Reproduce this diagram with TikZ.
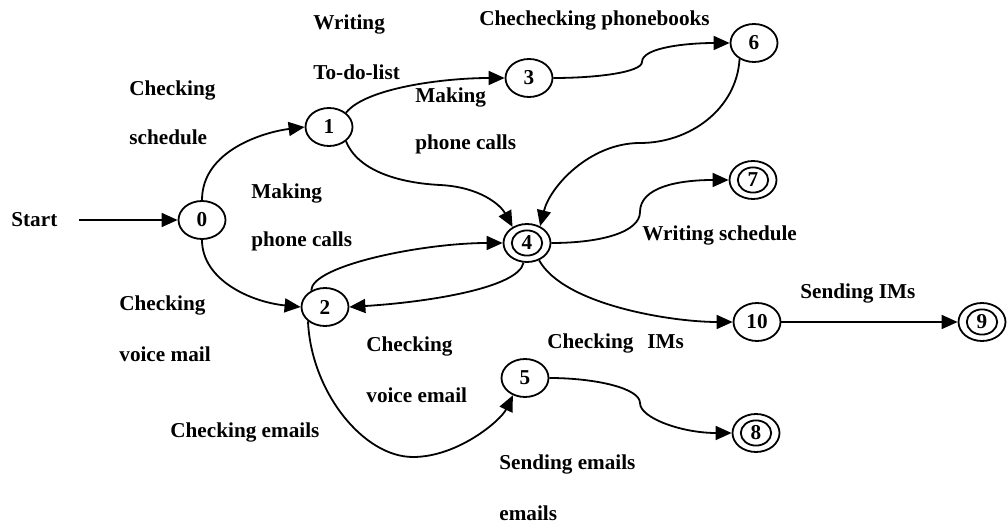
\documentclass[tikz,border=0pt]{standalone}
\usepackage{fontspec}
\setmainfont{Liberation Serif}
\usetikzlibrary{shapes.geometric,arrows.meta}
\begin{document}
\begin{tikzpicture}[x=0.5pt,y=-0.5pt,
  lbl/.style={anchor=west,inner sep=0pt,font=\fontsize{10.6}{12}\selectfont\bfseries},
  st/.style={draw,ellipse,line width=0.9pt,minimum width=23.5pt,minimum height=19pt,inner sep=0pt,font=\fontsize{10.6}{12}\selectfont\bfseries},
  fin/.style={st,append after command={\pgfextra{\draw[line width=0.9pt] (\tikzlastnode.center) ellipse (7.6pt and 6.3pt);}}},
  arr/.style={line width=0.9pt,-{Triangle[length=8pt,width=7pt]}}]
\useasboundingbox (0,0) rectangle (1008,523);
% states
\node[st]  (n0)  at (202,220) {0};
\node[st]  (n1)  at (329,127) {1};
\node[st]  (n2)  at (325,307) {2};
\node[st]  (n3)  at (529,78)  {3};
\node[fin] (n4)  at (527,243) {4};
\node[st]  (n5)  at (525,378) {5};
\node[st]  (n6)  at (754,43)  {6};
\node[fin] (n7)  at (753,180) {7};
\node[fin] (n8)  at (756,433) {8};
\node[fin] (n9)  at (982,322) {9};
\node[st]  (n10) at (757,322) {10};
% labels
\node[lbl] (lstart) at (11,220) {Start};
\node[lbl] (la1) at (313,24) {Writing};
\node[lbl] (la2) at (313,72) {To-do-list};
\node[lbl] (lb1) at (129,90) {Checking};
\node[lbl] (lb2) at (129,137) {schedule};
\node[lbl] (lc1) at (251,193) {Making};
\node[lbl] (lc2) at (251,241) {phone calls};
\node[lbl] (ld1) at (415,97) {Making};
\node[lbl] (ld2) at (415,144) {phone calls};
\node[lbl] (le)  at (479,20) {Chechecking phonebooks};
\node[lbl] (lf)  at (642,235) {Writing schedule};
\node[lbl] (lg1) at (119,305) {Checking};
\node[lbl] (lg2) at (119,354) {voice mail};
\node[lbl] (lh1) at (366,346) {Checking};
\node[lbl] (lh2) at (366,395) {voice email};
\node[lbl] (li)  at (170,432) {Checking emails};
\node[lbl] (lj)  at (800,293) {Sending IMs};
\node[lbl] (lk)  at (547,343) {Checking\hspace{7pt}IMs};
\node[lbl] (ll1) at (499,464) {Sending emails};
\node[lbl] (ll2) at (499,513) {emails};
% helper coordinates
\coordinate (s) at (79,220);
\coordinate (k14) at (440,185);
\coordinate (k36) at (642,62);
\coordinate (k64) at (640,143);
\coordinate (k47) at (640,212);
\coordinate (k25) at (413,457);
\coordinate (k58) at (640,403);
% edges
\draw[arr] (s) -- (n0.west);
\draw[arr] (n0.north) .. controls +(0,-50) and +(-40,5) .. (n1.west);
\draw[arr] (n0.south) .. controls +(0,40) and +(-50,-5) .. (n2.west);
\draw[arr] (n1.40) .. controls +(20,-25) and +(-60,0) .. (n3.west);
\draw[arr] (n1.-40) .. controls +(12,30) and +(-40,-2) .. (k14) .. controls +(40,2) and +(-12,-22) .. (n4.132);
\draw[arr] (n3.east) .. controls +(45,0) and +(0,10) .. (k36) .. controls +(0,-15) and +(-40,0) .. (n6.west);
\draw[arr] (n6.228) .. controls +(-3,50) and +(50,0) .. (k64) .. controls +(-50,0) and +(10,-40) .. (n4.52);
\draw[arr] (n4.east) .. controls +(50,0) and +(0,20) .. (k47) .. controls +(0,-25) and +(-50,0) .. (n7.west);
\draw[arr] (n4.-55) .. controls +(25,45) and +(-60,0) .. (n10.west);
\draw[arr] (n10.east) -- (n9.west);
\draw[arr] (n4.-100) .. controls +(-5,25) and +(80,-5) .. (n2.east);
\draw[arr] (n2.130) .. controls +(0,-25) and +(-80,0) .. (n4.west);
\draw[arr] (n2.-140) .. controls +(3,70) and +(-50,0) .. (k25) .. controls +(45,0) and +(-12,25) .. (n5.-125);
\draw[arr] (n5.east) .. controls +(45,0) and +(0,-15) .. (k58) .. controls +(0,15) and +(-50,0) .. (n8.west);
\end{tikzpicture}
\end{document}
